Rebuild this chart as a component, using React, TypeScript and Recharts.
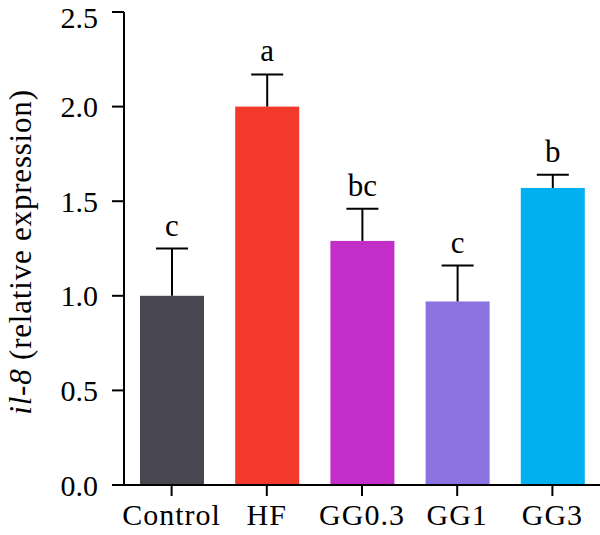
import React from 'react';
import { BarChart, Bar, XAxis, YAxis, Cell } from 'recharts';

const groups = ['Control', 'HF', 'GG0.3', 'GG1', 'GG3'];
const means = [1.0, 2.0, 1.29, 0.97, 1.57];
const sds = [0.25, 0.17, 0.17, 0.19, 0.07];
const letters = ['c', 'a', 'bc', 'c', 'b'];
const colors = ['#484650', '#f2392b', '#c42ec8', '#8a72e0', '#00b0ef'];
const yTicks = [0, 0.5, 1.0, 1.5, 2.0, 2.5];

const data = groups.map((g, i) => ({
  group: g,
  mean: means[i],
  sd: sds[i],
  letter: letters[i],
}));

const FONT = '"Liberation Serif", "Times New Roman", serif';

// bar + one-sided error bar + significance letter
const BarWithError = (props: any) => {
  const { x, y, width, height, fill, payload } = props;
  const pxPerUnit = height / payload.mean;
  const errTop = y - payload.sd * pxPerUnit;
  const cx = x + width / 2;
  const capHalf = 16;
  return (
    <g>
      <rect x={x} y={y} width={width} height={height} fill={fill} />
      <line x1={cx} x2={cx} y1={y} y2={errTop} stroke="#000" strokeWidth={2} />
      <line x1={cx - capHalf} x2={cx + capHalf} y1={errTop} y2={errTop} stroke="#000" strokeWidth={2} />
      <text x={cx} y={errTop - 13} textAnchor="middle" fontFamily={FONT} fontSize={31} fill="#000">
        {payload.letter}
      </text>
    </g>
  );
};

const YLabel = () => (
  <text
    transform="translate(31, 252) rotate(-90)"
    textAnchor="middle"
    fontFamily={FONT}
    fontSize={31}
    letterSpacing={0.8}
    fill="#000"
  >
    <tspan fontStyle="italic">il-8</tspan>
    <tspan> (relative expression)</tspan>
  </text>
);

export default function App() {
  return (
    <div style={{ position: 'absolute', left: 0, top: 0, background: '#fff' }}>
      <BarChart
        width={600}
        height={535}
        data={data}
        margin={{ top: 12, right: 0, left: 0, bottom: 0 }}
      >
        <XAxis
          dataKey="group"
          height={50}
          stroke="#000"
          strokeWidth={2}
          tickSize={11}
          tickMargin={8}
          tick={{ fill: '#000', fontSize: 30, fontFamily: FONT, letterSpacing: 1 }}
          interval={0}
        />
        <YAxis
          width={124}
          domain={[0, 2.5]}
          ticks={yTicks}
          stroke="#000"
          strokeWidth={2}
          tickSize={12}
          tickMargin={14}
          tickFormatter={(v: number) => v.toFixed(1)}
          tick={{ fill: '#000', fontSize: 30, fontFamily: FONT }}
          label={<YLabel />}
        />
        <Bar dataKey="mean" barSize={64} shape={BarWithError} isAnimationActive={false}>
          {data.map((d, i) => (
            <Cell key={d.group} fill={colors[i]} />
          ))}
        </Bar>
      </BarChart>
    </div>
  );
}
